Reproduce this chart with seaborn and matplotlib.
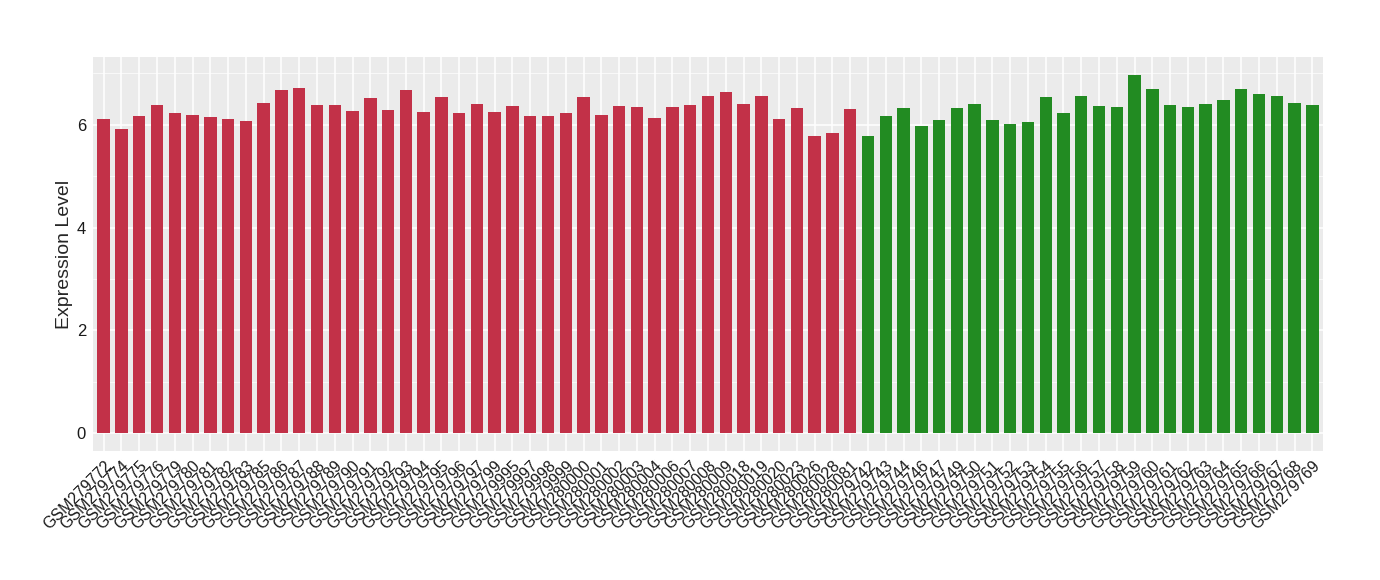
import pandas as pd
import numpy as np
import matplotlib
matplotlib.use("Agg")
import matplotlib.pyplot as plt
import seaborn as sns
from matplotlib.ticker import MultipleLocator

# sample ids, group 1 (red) then group 2 (green)
red_samples = [
    "GSM279772", "GSM279774", "GSM279775", "GSM279776", "GSM279779", "GSM279780",
    "GSM279781", "GSM279782", "GSM279783", "GSM279785", "GSM279786", "GSM279787",
    "GSM279788", "GSM279789", "GSM279790", "GSM279791", "GSM279792", "GSM279793",
    "GSM279794", "GSM279795", "GSM279796", "GSM279797", "GSM279799", "GSM279995",
    "GSM279997", "GSM279998", "GSM279999", "GSM280000", "GSM280001", "GSM280002",
    "GSM280003", "GSM280004", "GSM280006", "GSM280007", "GSM280008", "GSM280009",
    "GSM280018", "GSM280019", "GSM280020", "GSM280023", "GSM280026", "GSM280028",
    "GSM280081",
]
red_values = [
    6.12, 5.92, 6.18, 6.39, 6.23, 6.20, 6.16, 6.12, 6.08, 6.43, 6.68, 6.72,
    6.39, 6.39, 6.27, 6.53, 6.29, 6.68, 6.25, 6.55, 6.23, 6.41, 6.25, 6.37,
    6.18, 6.18, 6.23, 6.55, 6.20, 6.37, 6.35, 6.14, 6.35, 6.39, 6.57, 6.64,
    6.41, 6.57, 6.12, 6.33, 5.79, 5.84, 6.31,
]
green_samples = [
    "GSM279742", "GSM279743", "GSM279744", "GSM279746", "GSM279747", "GSM279749",
    "GSM279750", "GSM279751", "GSM279752", "GSM279753", "GSM279754", "GSM279755",
    "GSM279756", "GSM279757", "GSM279758", "GSM279759", "GSM279760", "GSM279761",
    "GSM279762", "GSM279763", "GSM279764", "GSM279765", "GSM279766", "GSM279767",
    "GSM279768", "GSM279769",
]
green_values = [
    5.79, 6.18, 6.33, 5.98, 6.10, 6.33, 6.41, 6.10, 6.02, 6.06, 6.55, 6.23,
    6.57, 6.37, 6.35, 6.97, 6.70, 6.39, 6.35, 6.41, 6.49, 6.70, 6.60, 6.57,
    6.43, 6.39,
]

df = pd.DataFrame({
    "sample": red_samples + green_samples,
    "value": red_values + green_values,
    "group": ["A"] * len(red_samples) + ["B"] * len(green_samples),
})

sns.set_style("white")
plt.rcParams["font.family"] = ["Liberation Sans", "DejaVu Sans"]

fig = plt.figure(figsize=(13.8, 5.8), dpi=100)
ax = fig.add_axes([0.0674, 0.2224, 0.8913, 0.6793])
ax.set_facecolor("#EBEBEB")

sns.barplot(data=df, x="sample", y="value", hue="group",
            palette={"A": "#C23148", "B": "#228B22"}, saturation=1,
            width=0.7, dodge=False, legend=False, ax=ax, zorder=3,
            linewidth=0)

# ggplot-like grid
ax.yaxis.set_major_locator(MultipleLocator(2))
ax.yaxis.set_minor_locator(MultipleLocator(1))
ax.grid(True, which="major", color="white", linewidth=1.1, zorder=0)
ax.grid(True, which="minor", axis="y", color="white", linewidth=0.5, zorder=0)
ax.set_axisbelow(True)

ax.set_xlim(-0.6, len(df) - 0.4)
ax.set_ylim(-0.35, 7.32)
for s in ax.spines.values():
    s.set_visible(False)

ax.tick_params(axis="both", which="major", length=3, color="#333333",
               labelcolor="#1a1a1a", pad=2)
ax.tick_params(axis="y", which="major", labelsize=12)
ax.tick_params(axis="x", which="major", labelsize=11.5)
ax.tick_params(axis="y", which="minor", length=0)
plt.setp(ax.get_xticklabels(), rotation=45, ha="right", rotation_mode="anchor")

ax.set_xlabel("")
ax.set_ylabel("Expression Level", fontsize=14, labelpad=3)

fig.savefig("out.png", dpi=100)
